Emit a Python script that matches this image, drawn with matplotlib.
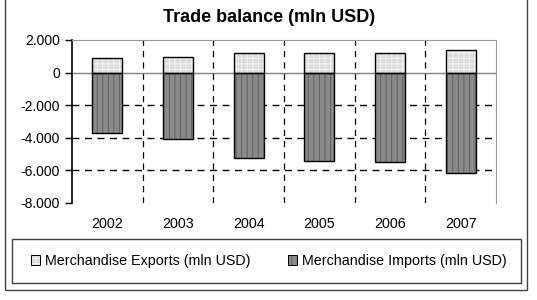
import matplotlib.pyplot as plt
import matplotlib.patches as mpatches
import numpy as np

plt.rcParams['font.family'] = ['Liberation Sans', 'DejaVu Sans']
plt.rcParams['hatch.linewidth'] = 0.7

years = ['2002', '2003', '2004', '2005', '2006', '2007']
exports = [900, 950, 1200, 1200, 1200, 1400]
imports = [-3700, -4050, -5250, -5450, -5500, -6150]
labels = ['Merchandise Exports (mln USD)', 'Merchandise Imports (mln USD)']

exp_face, exp_hatch = '#dcdcdc', '#f4f4f4'
imp_face, imp_hatch = '#8a8a8a', '#606060'

fig = plt.figure(figsize=(5.37, 3.0), dpi=100)

# outer frame (top edge lies off the image)
fig.patches.append(mpatches.Rectangle((5 / 537, 10 / 300), 522 / 537, 300 / 300,
                                      transform=fig.transFigure, fill=False,
                                      edgecolor='#404040', linewidth=1.0))
# legend box
fig.patches.append(mpatches.Rectangle((12 / 537, 1 - 283 / 300), 509 / 537, 44 / 300,
                                      transform=fig.transFigure, fill=False,
                                      edgecolor='#404040', linewidth=1.0))

ax = fig.add_axes([72 / 537, 1 - 203 / 300, 424 / 537, 163 / 300])
x = np.arange(len(years))
w = 0.42

# fill + hatch, then outline on top
ax.bar(x, exports, width=w, color=exp_face, edgecolor=exp_hatch, linewidth=0,
       hatch='+++', zorder=3)
ax.bar(x, imports, width=w, color=imp_face, edgecolor=imp_hatch, linewidth=0,
       hatch='|||', zorder=3)
ax.bar(x, exports, width=w, fill=False, edgecolor='black', linewidth=1.0, zorder=4)
ax.bar(x, imports, width=w, fill=False, edgecolor='black', linewidth=1.0, zorder=4)

ax.set_xlim(-0.5, len(years) - 0.5)
ax.set_ylim(-8000, 2000)
ax.set_yticks(np.arange(-8000, 2001, 2000))
ax.set_yticklabels([f'{v:,}'.replace(',', '.') for v in range(-8000, 2001, 2000)])
ax.set_xticks(x)
ax.set_xticklabels(years)
ax.tick_params(axis='x', length=0, pad=10, labelsize=10.3)
ax.tick_params(axis='y', length=5, width=1, labelsize=10, direction='out')

for y in [-2000, -4000, -6000]:
    ax.axhline(y, color='black', linestyle=(0, (5, 4)), linewidth=1.0, zorder=1)
for xv in np.arange(0.5, len(years) - 0.5, 1):
    ax.axvline(xv, color='black', linestyle=(0, (5, 4)), linewidth=0.9, zorder=1)
ax.axhline(0, color='#808080', linewidth=1.0, zorder=2)

ax.spines['left'].set_color('black')
ax.spines['left'].set_linewidth(1.2)
ax.spines['bottom'].set_visible(False)
ax.spines['top'].set_color('#999999')
ax.spines['right'].set_color('#999999')

fig.text(269 / 537, 1 - 17 / 300, 'Trade balance (mln USD)', ha='center', va='center',
         fontsize=13, fontweight='bold')

h1 = (mpatches.Patch(facecolor=exp_face, edgecolor=exp_hatch, hatch='+++', linewidth=0),
      mpatches.Patch(fill=False, edgecolor='black', linewidth=0.7))
h2 = (mpatches.Patch(facecolor=imp_face, edgecolor=imp_hatch, hatch='|||', linewidth=0),
      mpatches.Patch(fill=False, edgecolor='black', linewidth=0.7))
for h, lab, xl in [(h1, labels[0], 31), (h2, labels[1], 288)]:
    fig.legend([h], [lab], loc='center left', bbox_to_anchor=(xl / 537, 1 - 261 / 300),
               frameon=False, fontsize=10.3, handlelength=0.65, handleheight=0.65,
               handletextpad=0.35, borderpad=0, borderaxespad=0)

fig.savefig('out.png', dpi=100)
